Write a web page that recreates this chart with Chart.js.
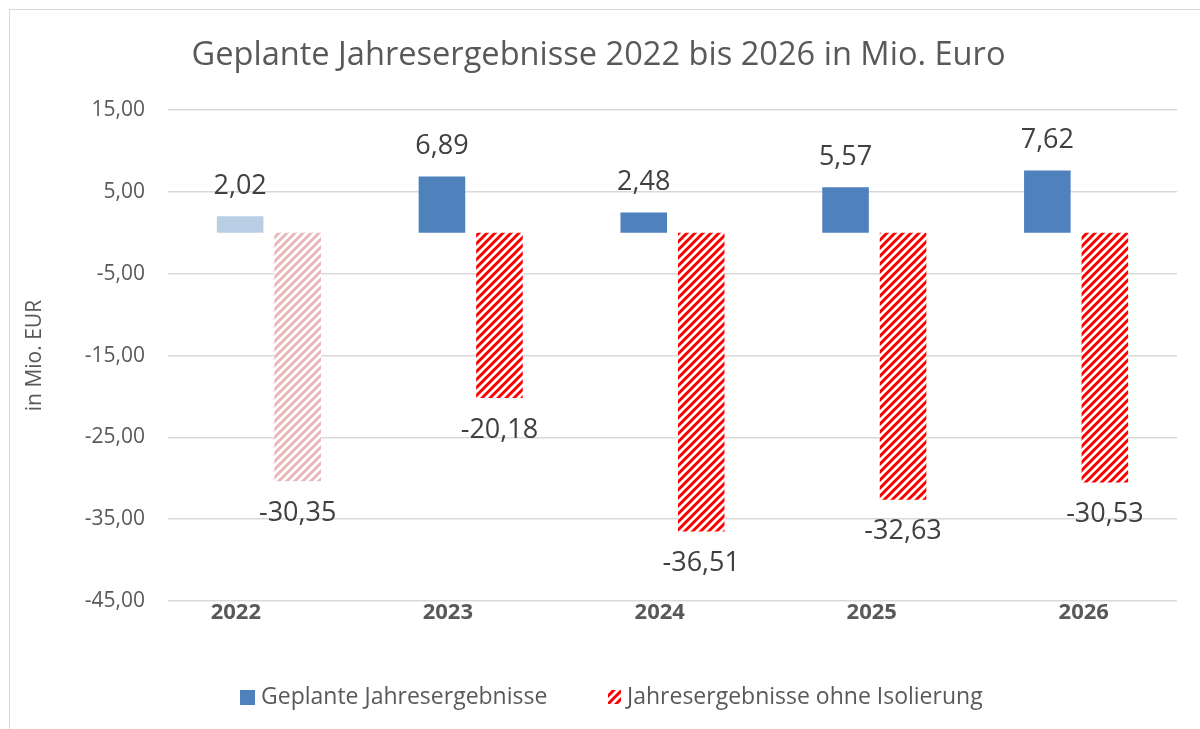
<!DOCTYPE html>
<html>
<head>
<meta charset="utf-8">
<script src="https://cdn.jsdelivr.net/npm/chart.js@4.4.1/dist/chart.umd.min.js"></script>
<style>
  html, body { margin: 0; padding: 0; background: #fff; }
  #wrap { width: 1200px; height: 729px; position: relative; }
</style>
</head>
<body>
<div id="wrap"><canvas id="c" width="1200" height="729"></canvas></div>
<script>
const categories = ['2022', '2023', '2024', '2025', '2026'];
const plannedResults = [2.02, 6.89, 2.48, 5.57, 7.62];
const resultsWithoutIsolation = [-30.35, -20.18, -36.51, -32.63, -30.53];
const seriesNames = ['Geplante Jahresergebnisse', 'Jahresergebnisse ohne Isolierung'];
const titleText = 'Geplante Jahresergebnisse 2022 bis 2026 in Mio. Euro';
const yAxisTitle = 'in Mio. EUR';
const yMin = -45, yMax = 15, yStep = 10;

const FONT = '"Open Sans", "Noto Sans", sans-serif';
const TXT = '#595959';

function hatch(color) {
  const c = document.createElement('canvas');
  c.width = 8; c.height = 8;
  const g = c.getContext('2d');
  g.fillStyle = '#ffffff';
  g.fillRect(0, 0, 8, 8);
  g.strokeStyle = color;
  g.lineWidth = 3;
  g.beginPath();
  g.moveTo(-2, 10); g.lineTo(10, -2);
  g.moveTo(-6, 6); g.lineTo(6, -6);
  g.moveTo(2, 14); g.lineTo(14, 2);
  g.stroke();
  return g.createPattern(c, 'repeat');
}
const redHatch = hatch('#ff0000');
const paleHatch = hatch('#e6b8b7');

const fmt = v => v.toFixed(2).replace('.', ',');

const decor = {
  id: 'decor',
  beforeDraw(chart) {
    const ctx = chart.ctx;
    ctx.save();
    ctx.strokeStyle = '#d9d9d9';
    ctx.lineWidth = 1;
    ctx.strokeRect(9.5, 9.5, 1300, 900);
    ctx.restore();
  },
  afterDatasetsDraw(chart) {
    const ctx = chart.ctx;
    ctx.save();
    ctx.font = '27px ' + FONT;
    ctx.fillStyle = '#404040';
    ctx.textAlign = 'center';
    ctx.textBaseline = 'middle';
    chart.data.datasets.forEach((ds, di) => {
      const meta = chart.getDatasetMeta(di);
      meta.data.forEach((el, i) => {
        const v = ds.data[i];
        const y = v >= 0 ? el.y - 30 : el.y + 32;
        ctx.fillText(fmt(v), el.x, y);
      });
    });
    // legend
    const ly = 697;
    ctx.font = '23px ' + FONT;
    ctx.textAlign = 'left';
    ctx.fillStyle = '#4f81bd';
    ctx.fillRect(240, 690, 15, 15);
    ctx.fillStyle = TXT;
    ctx.fillText(chart.data.datasets[0].label, 261, ly);
    ctx.fillStyle = redHatch;
    ctx.fillRect(608, 690, 13, 14);
    ctx.fillStyle = TXT;
    ctx.fillText(chart.data.datasets[1].label, 627, ly);
    ctx.restore();
  }
};

new Chart(document.getElementById('c'), {
  type: 'bar',
  data: {
    labels: categories,
    datasets: [
      {
        label: seriesNames[0],
        data: plannedResults,
        backgroundColor: plannedResults.map((v, i) => i === 0 ? '#b9cde5' : '#4f81bd'),
        borderWidth: 0
      },
      {
        label: seriesNames[1],
        data: resultsWithoutIsolation,
        backgroundColor: resultsWithoutIsolation.map((v, i) => i === 0 ? paleHatch : redHatch),
        borderWidth: 0
      }
    ]
  },
  options: {
    responsive: false,
    animation: false,
    events: [],
    layout: { padding: { left: 20, right: 23, top: 0, bottom: 0 } },
    datasets: { bar: { categoryPercentage: 0.57, barPercentage: 0.81 } },
    plugins: {
      legend: { display: false },
      tooltip: { enabled: false },
      title: {
        display: true,
        text: titleText,
        color: TXT,
        font: { family: FONT, size: 32.6, weight: 'normal' },
        padding: { top: 36, bottom: 35 }
      }
    },
    scales: {
      x: {
        display: false
      },
      xLabels: {
        type: 'linear',
        position: 'bottom',
        offset: false,
        min: -0.32,
        max: categories.length - 1 + 0.44,
        grid: { display: false, drawTicks: false, offset: false },
        border: { display: false },
        afterBuildTicks(s) {
          s.ticks = categories.map((c, i) => ({ value: i }));
        },
        ticks: {
          stepSize: 1,
          includeBounds: false,
          autoSkip: false,
          maxRotation: 0,
          color: TXT,
          font: { family: FONT, size: 22, weight: 'bold' },
          padding: -1,
          callback: v => categories[v] ?? ''
        },
        afterFit(s) { s.height = 128; }
      },
      y: {
        min: yMin, max: yMax,
        grid: { color: '#d9d9d9', lineWidth: 1.5, drawTicks: false },
        border: { display: false },
        ticks: {
          stepSize: yStep,
          color: TXT,
          font: { family: FONT, size: 21 },
          padding: 23,
          callback: v => fmt(v)
        },
        title: {
          display: true,
          text: yAxisTitle,
          color: TXT,
          font: { family: FONT, size: 21 },
          padding: { top: 2, bottom: 0 }
        },
        afterFit(s) { s.width = 148; }
      }
    }
  },
  plugins: [decor]
});
</script>
</body>
</html>
